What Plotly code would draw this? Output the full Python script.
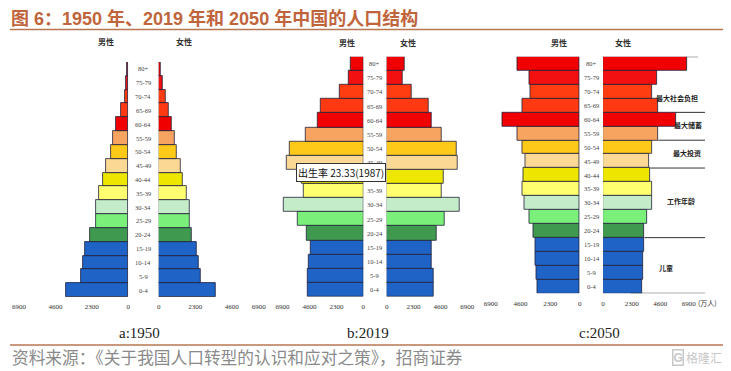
import plotly.graph_objects as go

W, H = 731, 371
OFF = 8  # page body margin: the figure is drawn 8px right and 8px down

# ---------------- data (ordered from 0-4 at bottom up to 80+) ----------------
ages = ["0-4", "5-9", "10-14", "15-19", "20-24", "25-29", "30-34", "35-39", "40-44",
        "45-49", "50-54", "55-59", "60-64", "65-69", "70-74", "75-79", "80+"]

male_1950 = [3910, 2960, 2840, 2730, 2390, 2070, 2070, 1860, 1600, 1440, 1120, 970, 760, 490, 230, 130, 80]
female_1950 = [3620, 2640, 2510, 2400, 2090, 1950, 1950, 1740, 1530, 1360, 1130, 1000, 800, 650, 420, 230, 125]

male_2019 = [4730, 4760, 4680, 4530, 4870, 5640, 6800, 5100, 5240, 6520, 6290, 4900, 3940, 3660, 2040, 1220, 1050]
female_2019 = [4020, 4020, 3880, 3880, 4250, 4960, 6230, 4730, 4870, 6090, 6010, 4680, 3830, 3630, 2130, 1360, 1560]

male_2050 = [3290, 3370, 3410, 3470, 3620, 3870, 4260, 4440, 4370, 4240, 4440, 4830, 6030, 4440, 3800, 3870, 4830]
female_2050 = [3120, 3200, 3250, 3310, 3330, 3520, 3920, 3920, 3790, 3730, 3920, 4450, 5840, 4450, 3920, 4370, 6720]

age_colors = ["#1f63c6", "#1f63c6", "#1f63c6", "#1f63c6", "#3f9a4f", "#7af07a", "#c4ecc8",
              "#ffff70", "#ede600", "#fbd995", "#ffc91a", "#f6a460", "#f00000", "#ff3a12",
              "#ff3d10", "#f21010", "#f00000"]

panel_titles = ["a:1950", "b:2019", "c:2050"]
phase_labels = ["最大社会负担", "最大储蓄", "最大投资", "工作年龄", "儿童"]
birth_note = "出生率 23.33(1987)"

# ---------------- helpers (page pixels -> paper fractions) ----------------
def px(x):
    return (x - OFF) / W

def py(y):
    return 1 - (y - OFF) / H

tickfont = dict(family="Liberation Serif", size=7, color="#333")

fig = go.Figure()

panels = [
    (male_1950, female_1950, "y", "x", "x2"),
    (male_2019, female_2019, "y2", "x3", "x4"),
    (male_2050, female_2050, "y3", "x5", "x6"),
]
for m, f, ya, xl, xr in panels:
    for vals, xa in ((m, xl), (f, xr)):
        fig.add_trace(go.Bar(
            x=vals, y=ages, orientation="h", xaxis=xa, yaxis=ya,
            marker=dict(color=age_colors, line=dict(color="#20203a", width=0.8)),
            showlegend=False, hoverinfo="skip"))

def xax(dom, rng, anchor, tv, tt):
    return dict(domain=[px(dom[0]), px(dom[1])], range=rng, anchor=anchor,
                showgrid=False, zeroline=False, showline=False,
                tickvals=tv, ticktext=tt, tickfont=tickfont, tickangle=0,
                ticks="outside", ticklen=3, tickcolor="rgba(0,0,0,0)")

def yax(top, bottom, anchor):
    return dict(domain=[py(bottom), py(top)], range=[-0.5, 16.5], anchor=anchor,
                visible=False, type="category")

fig.update_layout(
    width=W, height=H, margin=dict(l=0, r=0, t=0, b=0),
    paper_bgcolor="white", plot_bgcolor="white", bargap=0,
    xaxis=xax((8, 127), [7461, 0], "y", [0, 2300, 4600, 6900], ["0", "2300", "4600", "6900"]),
    xaxis2=xax((157.5, 245), [0, 5486], "y", [0, 2300, 4600], ["0", "2300", "4600"]),
    xaxis3=xax((248, 363.3), [9800, 0], "y2", [0, 2300, 4600, 6900, 8950],
               ["0", "2300", "4600", "6900", "6900"]),
    xaxis4=xax((386.7, 478), [0, 7760], "y2", [0, 2300, 4600, 6900], ["0", "2300", "4600", "6900"]),
    xaxis5=xax((485, 581), [7392, 0], "y3", [0, 2300, 4600, 6900], ["0", "2300", "4600", "6900"]),
    xaxis6=xax((604.3, 712), [0, 8616], "y3", [0, 2300, 4600, 6900], ["0", "2300", "4600", "6900"]),
    yaxis=yax(62, 297, "x"),
    yaxis2=yax(56.7, 296.7, "x3"),
    yaxis3=yax(56.7, 293.3, "x5"),
)

def note(x, y, text, font, **kw):
    d = dict(x=px(x), y=py(y), xref="paper", yref="paper", text=text, showarrow=False,
             xanchor="center", yanchor="middle", font=font)
    d.update(kw)
    return d

ann = []
# age labels in the centre gaps
for cx, ya in ((142, "y"), (375, "y2"), (592.7, "y3")):
    for a in ages:
        ann.append(dict(x=px(cx), xref="paper", y=a, yref=ya, text=a, showarrow=False,
                        xanchor="center", yanchor="middle",
                        font=dict(family="Liberation Serif", size=6.5, color="#444")))

# 男性 / 女性 headers
hfont = dict(family="Noto Sans CJK SC", size=8, color="#333")
for x, y, t in ((105, 41, "男性"), (183, 41, "女性"), (347, 43, "男性"), (408, 43, "女性"),
                (560, 43, "男性"), (624, 43, "女性")):
    ann.append(note(x, y, "<b>" + t + "</b>", hfont))

# unit label
ann.append(note(709, 303, "(万人)", dict(family="Noto Sans CJK SC", size=7, color="#333")))

# panel titles
for x, t in zip((138, 368, 601), panel_titles):
    ann.append(note(x, 333, t, dict(family="Liberation Serif", size=15, color="#222")))

# birth-rate note
ann.append(note(340.5, 172.5, birth_note, dict(family="Noto Sans CJK SC", size=10, color="#111"),
                bgcolor="white", bordercolor="#333", borderwidth=1, borderpad=1))

# 2050 phase labels
pfont = dict(family="Noto Sans CJK SC", size=7, color="#222")
for (x, y), t in zip(((678.5, 97.7), (689.7, 125), (688.8, 153.3), (683, 200.7), (667.5, 268.3)),
                     phase_labels):
    ann.append(note(x, y, "<b>" + t + "</b>", pfont))

# title
ann.append(note(8, 19, "<b>图 6：1950 年、2019 年和 2050 年中国的人口结构</b>",
                dict(family="Liberation Sans, Noto Sans CJK SC", size=18, color="#c0643c"),
                xanchor="left", borderpad=0))
# source
ann.append(note(8, 357, "资料来源：《关于我国人口转型的认识和应对之策》，招商证券",
                dict(family="Noto Sans CJK SC", size=16.7, color="#8a8a8a"), xanchor="left"))
# watermark
ann.append(note(680, 357, "<b>G</b>", dict(family="Liberation Sans", size=12, color="#c8c8c8"),
                bordercolor="#c8c8c8", borderwidth=1.5, borderpad=0))
ann.append(note(706, 357, "格隆汇", dict(family="Noto Sans CJK SC", size=12, color="#c8c8c8")))
fig.update_layout(annotations=ann)

shapes = []
rule = dict(color="#b87650", width=1.5)
shapes.append(dict(type="line", xref="paper", yref="paper", x0=px(8), x1=px(726),
                   y0=py(29.5), y1=py(29.5), line=rule))
shapes.append(dict(type="line", xref="paper", yref="paper", x0=px(8), x1=px(726),
                   y0=py(345), y1=py(345), line=rule))
# 2050 phase divider lines (category boundary; start at the wider neighbouring bar)
bounds = [(16.5, [16], 7650), (12.5, [12, 13], 8200), (10.5, [10, 11], 8200),
          (8.5, [8, 9], 8200), (3.5, [3, 4], 8200)]
for yb, idx, xend in bounds:
    x0 = max(female_2050[i] for i in idx)
    shapes.append(dict(type="line", xref="x6", yref="y3", x0=x0, x1=xend, y0=yb, y1=yb,
                       line=dict(color="#333", width=1)))
shapes.append(dict(type="line", xref="x6", yref="y3", x0=2200, x1=8200, y0=-0.5, y1=-0.5,
                   line=dict(color="#333", width=1)))
fig.update_layout(shapes=shapes)

fig.write_html("out.html")
